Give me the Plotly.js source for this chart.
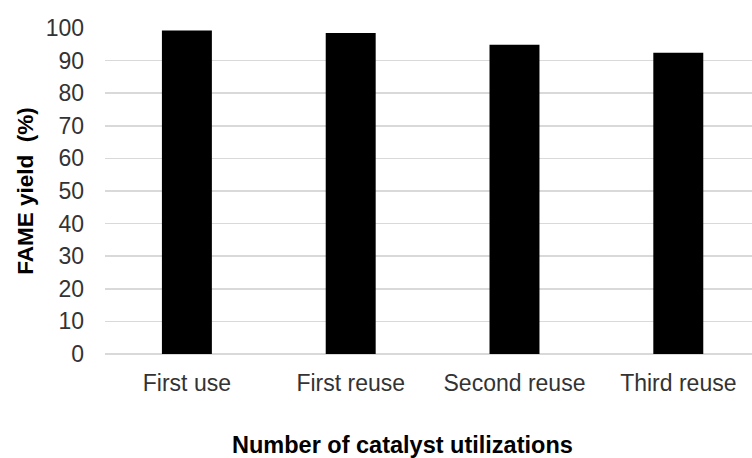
<!DOCTYPE html>
<html>
<head>
<meta charset="utf-8">
<script src="https://cdn.plot.ly/plotly-3.0.1.min.js"></script>
<style>html,body{margin:0;padding:0;background:#fff;}#chart{width:752px;height:458px;}</style>
</head>
<body>
<div id="chart"></div>
<script>
const categories = ["First use", "First reuse", "Second reuse", "Third reuse"];
const fameYield = [99.2, 98.5, 94.9, 92.4];
const yTickValues = [0, 10, 20, 30, 40, 50, 60, 70, 80, 90, 100];
const xTitle = "Number of catalyst utilizations";
const yTitle = "FAME yield  (%)";

const trace = {
  type: "bar",
  x: categories,
  y: fameYield,
  width: 0.305,
  marker: {color: "#000000", line: {width: 0}},
  hoverinfo: "x+y"
};

const fontFam = "Arial, 'Liberation Sans', sans-serif";

const layout = {
  width: 752,
  height: 458,
  margin: {l: 105, r: 0, t: 28, b: 104},
  paper_bgcolor: "#ffffff",
  plot_bgcolor: "#ffffff",
  showlegend: false,
  font: {family: fontFam, color: "#404040"},
  xaxis: {
    type: "category",
    range: [-0.5, 3.45],
    showgrid: false,
    zeroline: false,
    showline: false,
    ticks: "",
    ticklabelstandoff: 13,
    tickfont: {size: 23, color: "#333333"},
    automargin: false,
    fixedrange: true
  },
  yaxis: {
    range: [0, 100],
    tickvals: yTickValues,
    ticktext: yTickValues.map(String),
    showgrid: true,
    gridcolor: "#d9d9d9",
    gridwidth: 1.5,
    zeroline: true,
    zerolinecolor: "#d9d9d9",
    zerolinewidth: 1.5,
    showline: false,
    ticks: "",
    ticklabelstandoff: 20,
    tickfont: {size: 23, color: "#333333"},
    title: {text: yTitle, font: {size: 22.5, color: "#000000", family: fontFam, weight: "bold"}, standoff: 5},
    automargin: false,
    fixedrange: true
  },
  annotations: [{
    text: xTitle,
    xref: "paper", yref: "paper",
    x: (402 - 105) / 647, y: (458 - 445 - 104) / 326,
    xanchor: "center", yanchor: "middle",
    showarrow: false,
    font: {size: 23.5, color: "#000000", family: fontFam, weight: "bold"}
  }]
};

Plotly.newPlot("chart", [trace], layout, {displayModeBar: false, staticPlot: true});
</script>
</body>
</html>
